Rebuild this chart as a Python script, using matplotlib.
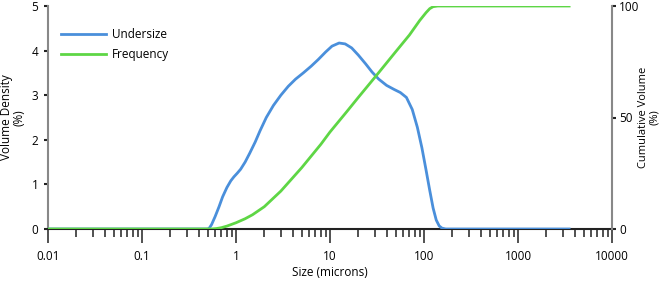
import numpy as np
import matplotlib.pyplot as plt
from matplotlib.ticker import LogLocator, NullFormatter, FixedLocator

plt.rcParams['font.family'] = ['Open Sans', 'DejaVu Sans']

# particle size (microns) and volume density (%)
size_density = [0.01, 0.1, 0.5, 0.52, 0.55, 0.6, 0.66, 0.72, 0.8, 0.88, 0.95, 1.03, 1.12,
                1.25, 1.4, 1.6, 1.8, 2.1, 2.5, 3.0, 3.6, 4.3, 5.2, 6.3, 7.5, 9.0, 10.5,
                12.5, 14.5, 17.0, 20.0, 24.0, 28.0, 33.0, 40.0, 48.0, 56.0, 65.0, 75.0,
                85.0, 95.0, 105.0, 115.0, 125.0, 135.0, 145.0, 155.0, 170.0, 3500.0]
density = [0, 0, 0, 0.02, 0.1, 0.28, 0.5, 0.72, 0.93, 1.08, 1.17, 1.25, 1.34,
           1.5, 1.7, 1.95, 2.2, 2.5, 2.77, 3.0, 3.2, 3.36, 3.5, 3.65, 3.8, 3.97, 4.1,
           4.17, 4.15, 4.06, 3.9, 3.7, 3.52, 3.36, 3.22, 3.13, 3.06, 2.95, 2.68,
           2.28, 1.82, 1.33, 0.87, 0.47, 0.2, 0.07, 0.02, 0, 0]

# particle size (microns) and cumulative volume (%)
size_cum = [0.01, 0.1, 0.55, 0.62, 0.7, 0.8, 1.0, 1.25, 1.5, 2.0, 3.0, 5.0, 8.0,
            10.0, 15.0, 20.0, 30.0, 50.0, 70.0, 90.0, 105.0, 115.0, 125.0, 140.0, 3500.0]
cumulative = [0, 0, 0, 0.2, 0.6, 1.3, 2.8, 4.6, 6.4, 10.0, 17.0, 27.5, 38.0,
              43.5, 52.5, 59.0, 68.0, 79.5, 87.0, 93.5, 97.0, 98.8, 99.7, 100.0, 100.0]

blue = '#4a8fdb'
green = '#5ed645'

fig = plt.figure(figsize=(6.61, 2.84), dpi=100)
ax = fig.add_axes([48 / 661, 1 - 229 / 284, (612 - 48) / 661, 223 / 284])
ax2 = ax.twinx()

l1, = ax.plot(size_density, density, color=blue, lw=2, label='Undersize', zorder=3)
l2, = ax2.plot(size_cum, cumulative, color=green, lw=2, label='Frequency', zorder=4)

ax.set_xscale('log')
ax.set_xlim(0.01, 10000)
ax.set_ylim(0, 5)
ax2.set_ylim(0, 100)

ax.xaxis.set_major_locator(FixedLocator([0.01, 0.1, 1, 10, 100, 1000, 10000]))
ax.set_xticklabels(['0.01', '0.1', '1', '10', '100', '1000', '10000'])
ax.xaxis.set_minor_locator(LogLocator(base=10, subs=np.arange(2, 10), numticks=20))
ax.xaxis.set_minor_formatter(NullFormatter())
ax.tick_params(axis='x', which='major', length=10, width=1.2, color='#333333',
               labelsize=8.5, pad=5)
ax.tick_params(axis='x', which='minor', length=6, width=1.2, color='#333333')
ax.set_yticks([0, 1, 2, 3, 4, 5])
ax.tick_params(axis='y', length=3, width=1.5, color='#222222', labelsize=8.5, pad=4)
ax2.set_yticks([0, 50, 100])
ax2.tick_params(axis='y', length=3, width=1.5, color='#222222', labelsize=8.5, pad=2)

for a in (ax, ax2):
    a.spines['top'].set_visible(False)
ax.spines['right'].set_visible(False)
ax.spines['left'].set_color('#888888')
ax.spines['left'].set_linewidth(1.5)
ax.spines['bottom'].set_color('#222222')
ax.spines['bottom'].set_linewidth(1.5)
ax2.spines['left'].set_visible(False)
ax2.spines['bottom'].set_visible(False)
ax2.spines['right'].set_color('#888888')
ax2.spines['right'].set_linewidth(1.5)

ax.set_xlabel('Size (microns)', fontsize=8.5, labelpad=2)
ax.set_ylabel('Volume Density\n(%)', fontsize=8.5, labelpad=4, linespacing=1.0)
ax2.set_ylabel('Cumulative Volume\n(%)', fontsize=8, labelpad=-1, linespacing=0.95)

ax.legend(handles=[l1, l2], loc='upper left', bbox_to_anchor=(0.005, 0.95),
          frameon=False, fontsize=8.5, handlelength=3.8, handletextpad=0.5,
          labelspacing=0.6)

fig.savefig('out.png', dpi=100)
